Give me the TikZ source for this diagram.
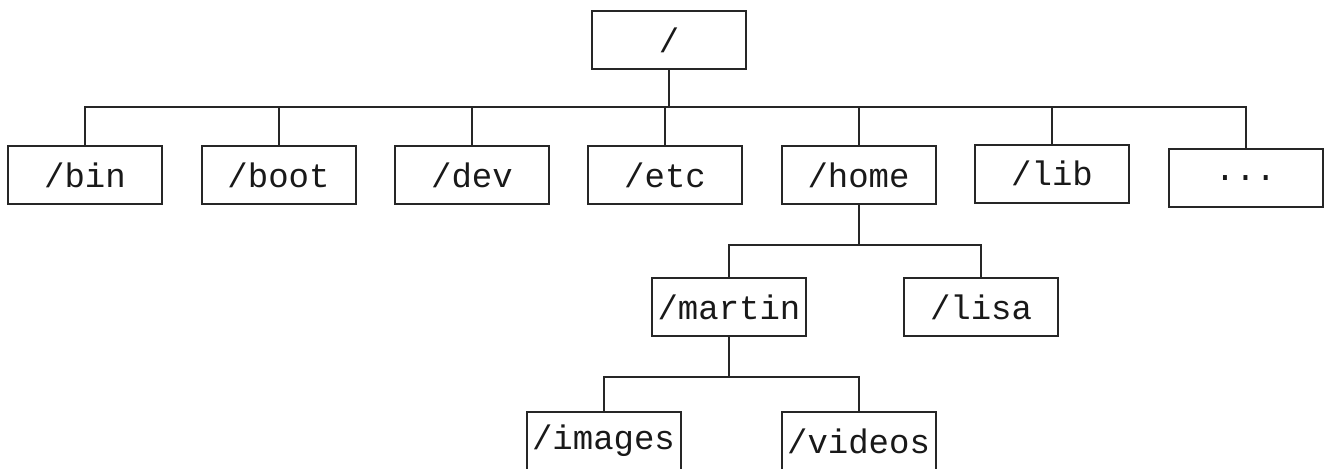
\documentclass[tikz,border=0pt]{standalone}
\usepackage{fontspec}
\setmonofont{Liberation Mono}
\begin{document}
\begin{tikzpicture}[x=0.5pt,y=-0.5pt,
  dirbox/.style={draw=black!85, line width=1pt, rectangle, minimum width=77pt, minimum height=29pt, inner sep=0pt, font=\ttfamily\fontsize{17}{20}\selectfont, text=black!90},
  link/.style={draw=black!85, line width=1pt}]
\clip (0,0) rectangle (1327,468);
\fill[white] (0,0) rectangle (1327,468);
\node[dirbox] (root) at (669,40) {/};
\node[dirbox] (bin) at (85,175) {/bin};
\node[dirbox] (boot) at (278.5,175) {/boot};
\node[dirbox] (dev) at (472,175) {/dev};
\node[dirbox] (etc) at (665,175) {/etc};
\node[dirbox] (home) at (858.5,175) {/home};
\node[dirbox] (lib) at (1052,173.5) {/lib};
\node[dirbox] (dots) at (1245.5,178) {...};
\node[dirbox] (martin) at (729,307) {/martin};
\node[dirbox] (lisa) at (981,307) {/lisa};
\node[dirbox] (images) at (603.5,441) {/images};
\node[dirbox] (videos) at (858.5,441) {/videos};
\foreach \c in {bin,boot,dev,etc,home,lib,dots}
  \draw[link] (root.south) -- ++(0,37) -| (\c.north);
\foreach \c in {martin,lisa}
  \draw[link] (home.south) -- ++(0,40) -| (\c.north);
\foreach \c in {images,videos}
  \draw[link] (martin.south) -- ++(0,40) -| (\c.north);
\end{tikzpicture}
\end{document}
